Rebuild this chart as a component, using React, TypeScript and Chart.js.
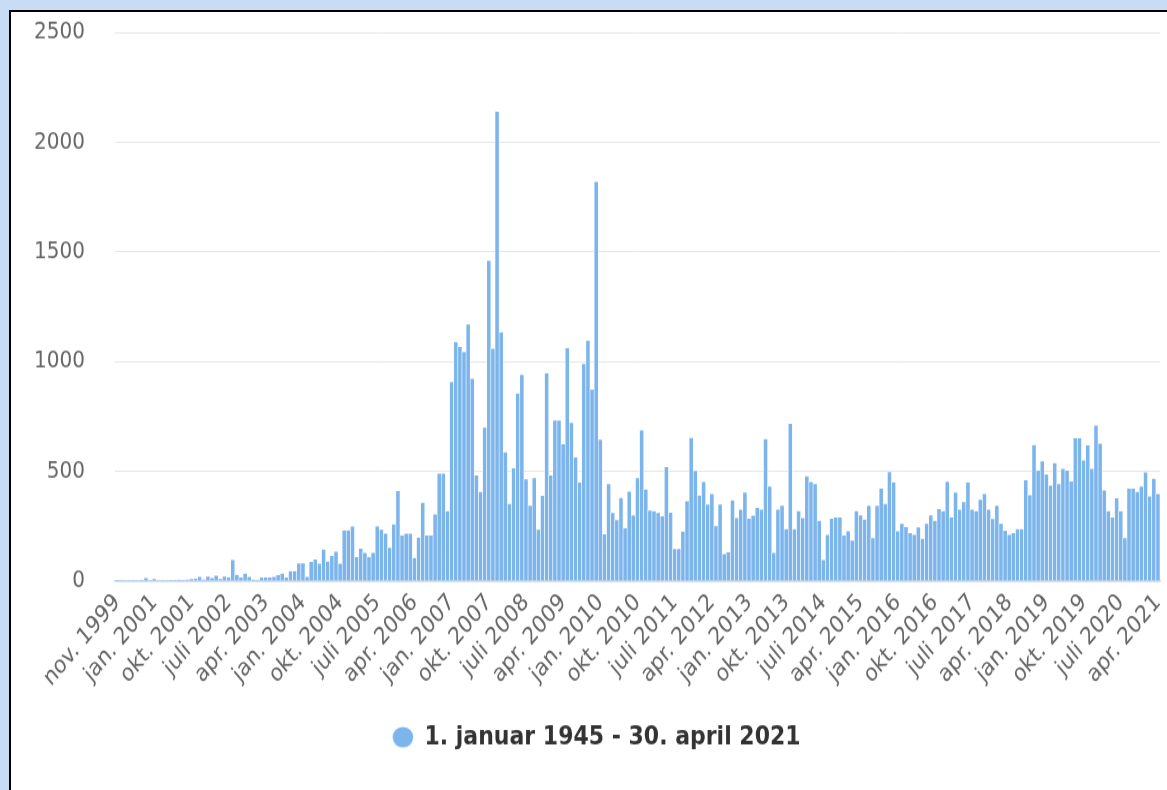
import React, { useEffect, useRef } from "react";
import { Chart, registerables } from "chart.js";

Chart.register(...registerables);

// First categories (irregular months before 2001)
const earlyCategories = [
  "nov. 1999", "feb. 2000", "mars 2000", "mai 2000", "juni 2000",
  "aug. 2000", "sep. 2000", "okt. 2000", "des. 2000",
];
const monthNames = ["jan.", "feb.", "mars", "apr.", "mai", "juni", "juli", "aug.", "sep.", "okt.", "nov.", "des."];
const firstYear = 2001;
const lastYear = 2021;
const lastMonthIndex = 3; // apr. 2021

const categories: string[] = [...earlyCategories];
for (let y = firstYear; y <= lastYear; y++) {
  for (let m = 0; m < 12; m++) {
    if (y === lastYear && m > lastMonthIndex) break;
    categories.push(`${monthNames[m]} ${y}`);
  }
}

const seriesName = "1. januar 1945 - 30. april 2021";

const values = [
  // nov. 1999 – des. 2000
  5, 4, 3, 3, 4, 3, 5, 15, 4,
  // 2001
  10, 3, 4, 3, 4, 5, 6, 5, 8, 10, 12, 20,
  // 2002
  8, 22, 15, 25, 10, 22, 18, 97, 30, 18, 35, 20,
  // 2003
  8, 2, 18, 18, 18, 20, 28, 35, 18, 46, 46, 82,
  // 2004
  82, 20, 88, 99, 80, 144, 90, 116, 135, 80, 232, 232,
  // 2005
  250, 111, 149, 129, 111, 129, 250, 235, 217, 153, 260, 411,
  // 2006
  209, 217, 217, 106, 199, 358, 209, 209, 305, 490, 490, 319,
  // 2007
  908, 1090, 1067, 1044, 1170, 923, 483, 407, 700, 1460, 1060, 2140,
  // 2008
  1135, 587, 352, 515, 856, 940, 465, 344, 470, 235, 389, 948,
  // 2009
  482, 733, 733, 624, 1062, 722, 565, 450, 990, 1096, 873, 1820,
  // 2010
  645, 214, 443, 311, 278, 380, 241, 409, 301, 470, 687, 418,
  // 2011
  323, 320, 311, 296, 521, 313, 147, 147, 226, 365, 653, 503,
  // 2012
  391, 452, 349, 398, 251, 349, 124, 132, 369, 288, 326, 405,
  // 2013
  285, 299, 334, 326, 648, 432, 129, 326, 344, 238, 718, 238,
  // 2014
  319, 288, 478, 452, 443, 276, 96, 212, 285, 291, 291, 209,
  // 2015
  228, 185, 319, 300, 281, 344, 197, 344, 422, 353, 497, 451,
  // 2016
  228, 262, 247, 220, 212, 246, 194, 262, 300, 276, 329, 319,
  // 2017
  453, 291, 405, 326, 361, 451, 326, 319, 372, 398, 326, 284,
  // 2018
  344, 262, 231, 212, 220, 238, 238, 460, 392, 620, 504, 546,
  // 2019
  486, 436, 539, 443, 513, 504, 455, 652, 652, 551, 619, 513,
  // 2020
  709, 627, 414, 319, 291, 379, 319, 197, 422, 422, 407, 432,
  // 2021
  496, 387, 467, 398,
];

const yTicks = [0, 500, 1000, 1500, 2000, 2500];
const labelStep = 9;

const FONT = "'DejaVu Sans', 'Open Sans', sans-serif";

// The reference picture is slightly stretched vertically
const STRETCH = 1.2;
const CANVAS_W = 1156;
const CANVAS_H_CSS = 778;
const CANVAS_H = Math.round(CANVAS_H_CSS / STRETCH);

export default function App() {
  const canvasRef = useRef<HTMLCanvasElement | null>(null);

  useEffect(() => {
    const canvas = canvasRef.current;
    if (!canvas) return;
    const chart = new Chart(canvas, {
      type: "bar",
      data: {
        labels: categories,
        datasets: [
          {
            label: seriesName,
            data: values,
            backgroundColor: "#7cb5ec",
            borderColor: "#ffffff",
            borderWidth: { left: 0.6, right: 0.6, top: 0.5, bottom: 0 },
            borderSkipped: "start",
            categoryPercentage: 1,
            barPercentage: 1,
          },
        ],
      },
      options: {
        animation: false,
        responsive: false,
        devicePixelRatio: 1,
        layout: { padding: { left: 22, right: 7, top: 17, bottom: 23 } },
        plugins: {
          tooltip: { enabled: false },
          legend: {
            position: "bottom",
            labels: {
              usePointStyle: true,
              pointStyle: "circle",
              pointStyleWidth: 21,
              boxWidth: 21,
              boxHeight: 12.5,
              padding: 10,
              color: "#333333",
              font: { family: FONT, size: 22, weight: "bold" },
            },
          },
        },
        scales: {
          x: {
            grid: { display: false, drawTicks: false },
            border: { display: true, color: "#ccd6eb", width: 1.5 },
            ticks: {
              autoSkip: false,
              minRotation: 45,
              maxRotation: 45,
              padding: 6,
              color: "#666666",
              font: { family: FONT, size: 20 },
              callback: function (this: any, value: any, index: number) {
                return index % labelStep === 0 ? categories[index] : "";
              },
            },
            afterFit: (scale: any) => {
              scale.height = 109;
              scale.paddingLeft = 0;
              scale.paddingRight = 0;
            },
          },
          y: {
            min: 0,
            max: yTicks[yTicks.length - 1],
            grid: { color: "#e6e6e6", lineWidth: 1, drawTicks: false },
            border: { display: false },
            ticks: {
              stepSize: 500,
              padding: 30,
              color: "#666666",
              font: { family: FONT, size: 20 },
              callback: (v: any) => String(v),
            },
            afterFit: (scale: any) => {
              scale.width = 82;
              scale.paddingTop = 0;
              scale.paddingBottom = 0;
            },
          },
        },
      },
    });
    return () => chart.destroy();
  }, []);

  return (
    <div style={{ position: "fixed", inset: 0, background: "#c9dcf5", overflow: "hidden" }}>
      <div
        style={{
          position: "absolute",
          left: 9,
          top: 10,
          width: 1220,
          height: 840,
          background: "#ffffff",
          borderLeft: "2px solid #000",
          borderTop: "2px solid #000",
        }}
      >
        <canvas
          ref={canvasRef}
          width={CANVAS_W}
          height={CANVAS_H}
          style={{ position: "absolute", left: 0, top: 0, width: CANVAS_W, height: CANVAS_H_CSS, display: "block" }}
        />
      </div>
    </div>
  );
}
